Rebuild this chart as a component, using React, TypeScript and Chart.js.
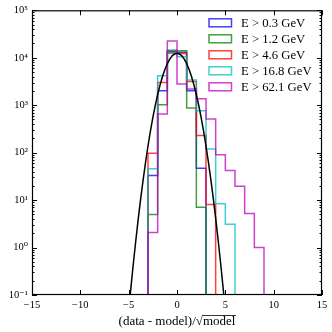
import React, { useEffect, useRef } from 'react';
import { Chart, registerables } from 'chart.js';

Chart.register(...registerables);

// ---- data ----
const binStart = -3; // left edge of the first bin (bins are 1 wide)
const blueCounts = [33, 2020, 13500, 13000, 2020, 47];
const greenCounts = [5, 1020, 14400, 14000, 870, 7.1];
const redCounts = [97, 3000, 12800, 12300, 3150, 229, 8.1];
const cyanCounts = [46, 4150, 12300, 10500, 3380, 767, 120, 8.4, 3.1];
const magentaCounts = [2.07, 650, 22600, 2800, 2200, 1360, 513, 90, 42, 19.5, 5.2, 1.0];
const seriesLabels = ['E > 0.3 GeV', 'E > 1.2 GeV', 'E > 4.6 GeV', 'E > 16.8 GeV', 'E > 62.1 GeV'];

const curveX = [
  -5, -4.75, -4.5, -4.25, -4, -3.75, -3.5, -3.25, -3, -2.75, -2.5, -2.25, -2, -1.75, -1.5, -1.25, -1, -0.75, -0.5, -0.25,
  0, 0.25, 0.5, 0.75, 1, 1.25, 1.5, 1.75, 2, 2.25, 2.5, 2.75, 3, 3.25, 3.5, 3.75, 4, 4.25, 4.5, 4.75, 5,
];
const curveY = [
  0.046, 0.156, 0.497, 1.48, 4.16, 11.0, 27.1, 63, 138, 283, 545, 987, 1680, 2680, 4030, 5680, 7520, 9360, 10940, 12020,
  12400, 12020, 10940, 9360, 7520, 5680, 4030, 2680, 1680, 987, 545, 283, 138, 63, 27.1, 11.0, 4.16, 1.48, 0.497, 0.156, 0.046,
];

const xTickValues = [-15, -10, -5, 0, 5, 10, 15];
const xTickLabels = ['\u221215', '\u221210', '\u22125', '0', '5', '10', '15'];
const yTickValues = [0.1, 1, 10, 100, 1000, 10000, 100000];
const yTickLabels = ['10\u207B\u00B9', '10\u2070', '10\u00B9', '10\u00B2', '10\u00B3', '10\u2074', '10\u2075'];
const xTitle = '(data - model)/\u221Amodel';

const FONT = "'Liberation Serif', 'DejaVu Serif', serif";
const COLORS = [
  'rgba(0,0,255,0.75)',
  'rgba(0,128,0,0.75)',
  'rgba(255,0,0,0.75)',
  'rgba(0,191,191,0.75)',
  'rgba(191,0,191,0.75)',
];

function stepPoints(start: number, counts: number[]) {
  const FLOOR = 1e-3;
  const pts: { x: number; y: number }[] = [{ x: start, y: FLOOR }];
  counts.forEach((c, i) => {
    pts.push({ x: start + i, y: c });
    pts.push({ x: start + i + 1, y: c });
  });
  pts.push({ x: start + counts.length, y: FLOOR });
  return pts;
}

const decorPlugin = {
  id: 'decor',
  afterDraw(chart: any) {
    const { ctx, chartArea: a, scales } = chart;
    const xs = scales.x;
    const ys = scales.y;
    ctx.save();
    ctx.strokeStyle = '#000';
    ctx.lineWidth = 1.2;
    // frame
    ctx.strokeRect(a.left + 0.5, a.top + 0.5, a.right - a.left - 1, a.bottom - a.top - 1);
    ctx.lineWidth = 1;
    // x ticks (inward, top and bottom)
    ctx.beginPath();
    xTickValues.forEach((v) => {
      const px = Math.round(xs.getPixelForValue(v)) + 0.5;
      ctx.moveTo(px, a.bottom);
      ctx.lineTo(px, a.bottom - 5);
      ctx.moveTo(px, a.top);
      ctx.lineTo(px, a.top + 5);
    });
    // y ticks
    yTickValues.forEach((v, i) => {
      const py = Math.round(ys.getPixelForValue(v)) + 0.5;
      ctx.moveTo(a.left, py);
      ctx.lineTo(a.left + 5, py);
      ctx.moveTo(a.right, py);
      ctx.lineTo(a.right - 5, py);
      if (i < yTickValues.length - 1) {
        for (let m = 2; m <= 9; m++) {
          const pm = Math.round(ys.getPixelForValue(v * m)) + 0.5;
          ctx.moveTo(a.left, pm);
          ctx.lineTo(a.left + 2.5, pm);
          ctx.moveTo(a.right, pm);
          ctx.lineTo(a.right - 2.5, pm);
        }
      }
    });
    ctx.stroke();

    // legend
    ctx.font = `12.7px ${FONT}`;
    ctx.textBaseline = 'middle';
    ctx.textAlign = 'left';
    seriesLabels.forEach((lab, i) => {
      const cy = 22.8 + i * 16;
      ctx.strokeStyle = COLORS[i];
      ctx.lineWidth = 1.5;
      ctx.strokeRect(209, cy - 4, 22.5, 8);
      ctx.fillStyle = '#000';
      ctx.fillText(lab, 241, cy + 0.5);
    });

    // overline for sqrt in x title
    ctx.font = `13px ${FONT}`;
    const w = ctx.measureText(xTitle).width;
    const pre = ctx.measureText('(data - model)/\u221A').width;
    const cx = (a.left + a.right) / 2;
    const x0 = cx - w / 2;
    ctx.strokeStyle = '#000';
    ctx.lineWidth = 0.8;
    ctx.beginPath();
    ctx.moveTo(x0 + pre - 0.5, 315.5);
    ctx.lineTo(x0 + w + 0.5, 315.5);
    ctx.stroke();
    ctx.restore();
  },
};

export default function App() {
  const ref = useRef<HTMLCanvasElement>(null);
  useEffect(() => {
    if (!ref.current) return;
    const series = [blueCounts, greenCounts, redCounts, cyanCounts, magentaCounts];
    const histSets = series.map((c, i) => ({
      label: seriesLabels[i],
      data: stepPoints(binStart, c),
      borderColor: COLORS[i],
      borderWidth: 1.5,
      pointRadius: 0,
      fill: false,
      tension: 0,
    }));
    const curveSet = {
      label: 'model',
      data: curveX.map((x, i) => ({ x, y: curveY[i] })),
      borderColor: '#000',
      borderWidth: 1.5,
      pointRadius: 0,
      fill: false,
      tension: 0,
    };
    const chart = new Chart(ref.current, {
      type: 'line',
      data: { datasets: [curveSet, ...histSets.slice().reverse()] as any },
      options: {
        animation: false,
        responsive: true,
        maintainAspectRatio: false,
        events: [],
        layout: { padding: { left: 0, top: 9, right: 10, bottom: 0 } },
        plugins: { legend: { display: false }, tooltip: { enabled: false } },
        scales: {
          x: {
            type: 'linear',
            min: -15,
            max: 15,
            offset: false,
            grid: { display: false, drawTicks: false },
            border: { display: false },
            afterBuildTicks: (s: any) => {
              s.ticks = xTickValues.map((v) => ({ value: v }));
            },
            afterFit: (s: any) => {
              s.height = 37;
            },
            ticks: {
              autoSkip: false,
              maxRotation: 0,
              padding: 4,
              color: '#000',
              font: { family: FONT, size: 10.5 },
              callback: (v: any) => {
                const i = xTickValues.indexOf(Number(v));
                return i >= 0 ? xTickLabels[i] : '';
              },
            },
            title: {
              display: true,
              text: xTitle,
              color: '#000',
              font: { family: FONT, size: 13 },
              padding: { top: 0, bottom: 2.4 },
            },
          },
          y: {
            type: 'logarithmic',
            min: 0.1,
            max: 100000,
            grid: { display: false, drawTicks: false },
            border: { display: false },
            afterBuildTicks: (s: any) => {
              s.ticks = yTickValues.map((v) => ({ value: v }));
            },
            afterFit: (s: any) => {
              s.width = 32;
            },
            ticks: {
              autoSkip: false,
              padding: 4,
              color: '#000',
              font: { family: FONT, size: 10.5 },
              callback: (v: any) => {
                const i = yTickValues.findIndex((t) => Math.abs(t - Number(v)) / t < 1e-6);
                return i >= 0 ? yTickLabels[i] : '';
              },
            },
          },
        },
      },
      plugins: [decorPlugin],
    });
    return () => chart.destroy();
  }, []);
  return (
    <div style={{ position: 'fixed', left: 0, top: 0, width: 332, height: 332, background: '#fff' }}>
      <canvas ref={ref} />
    </div>
  );
}
